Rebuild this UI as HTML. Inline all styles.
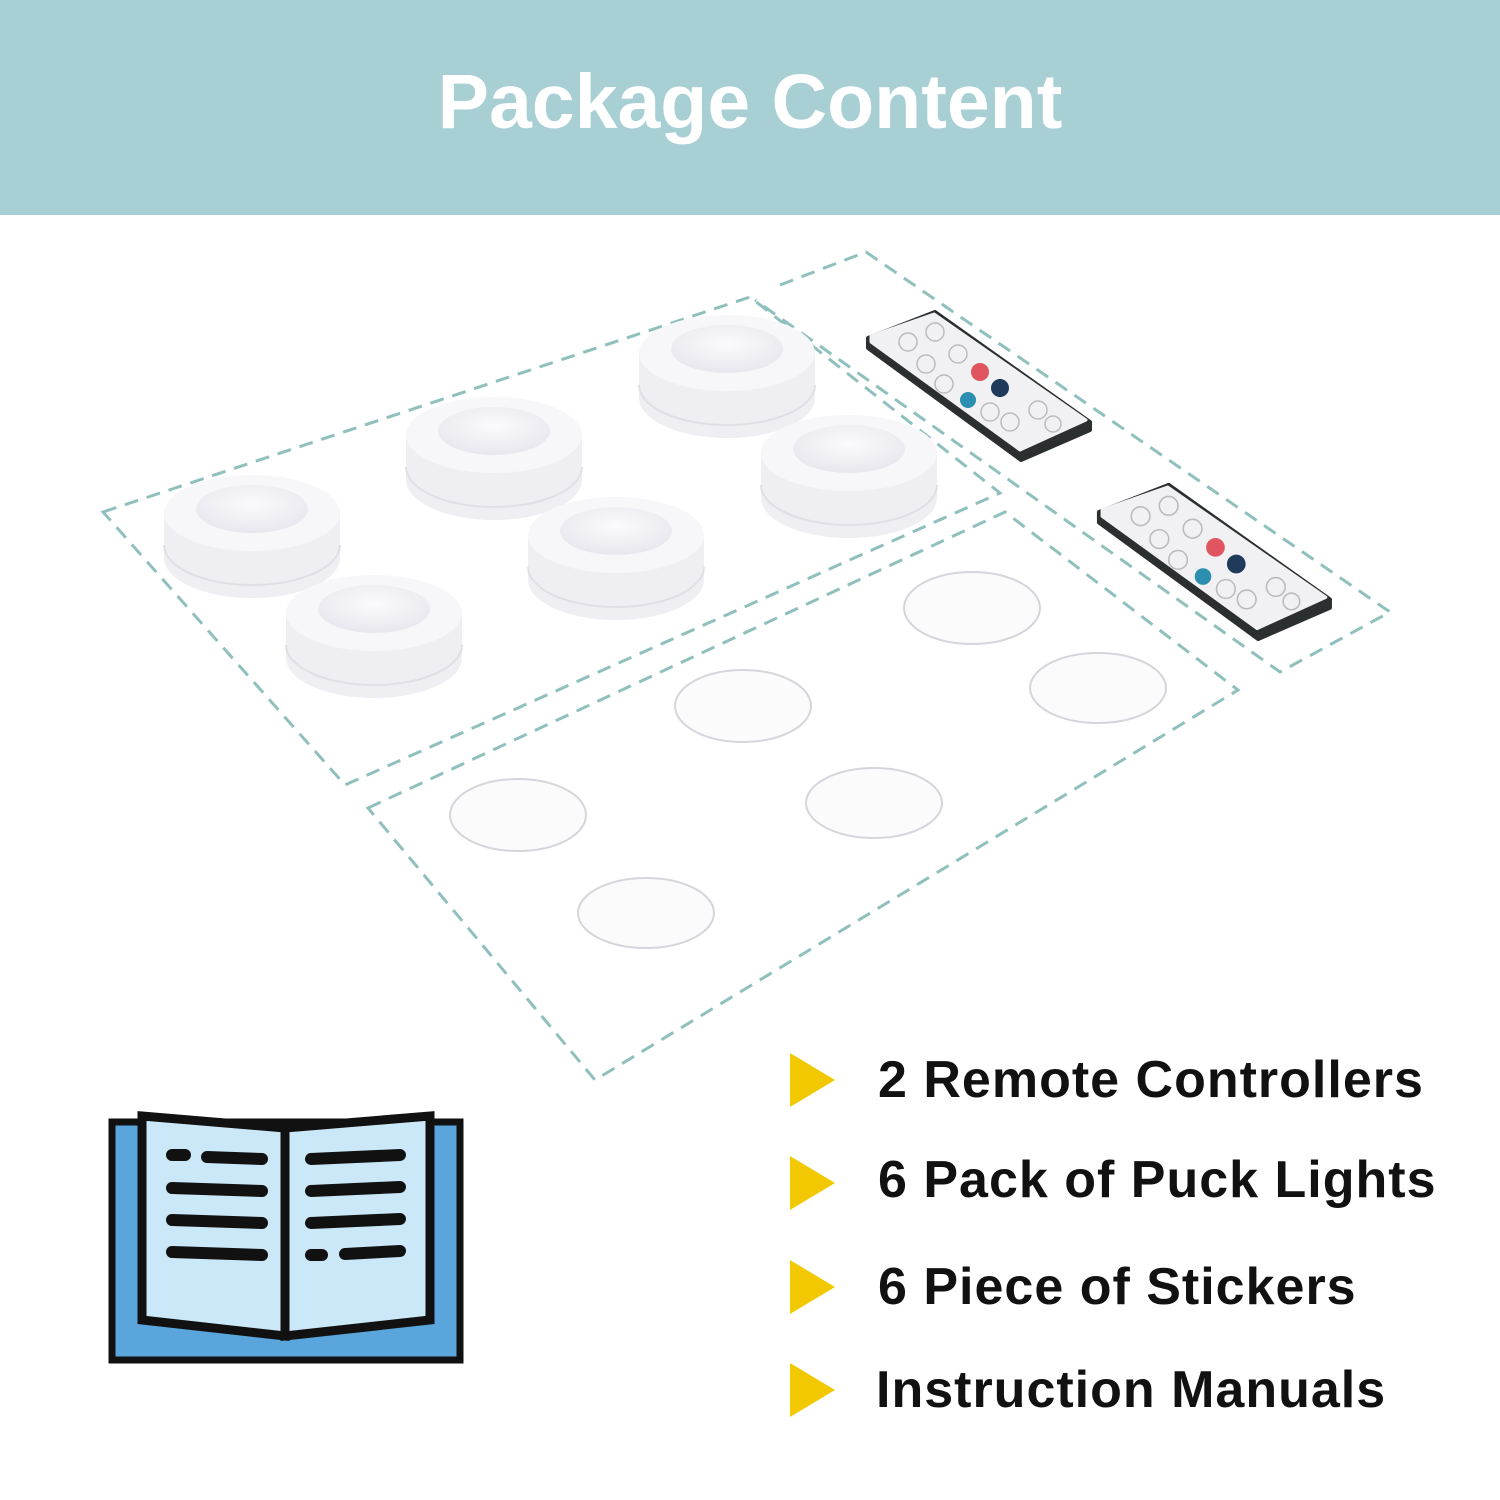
<!DOCTYPE html>
<html><head><style>
html,body{margin:0;padding:0;background:#fff;}
.wrap{position:relative;width:1500px;height:1500px;overflow:hidden;font-family:"Liberation Sans","DejaVu Sans",sans-serif;}
.hdr{position:absolute;left:0;top:0;width:1500px;height:215px;background:#a8cfd4;}
.hdr div{position:absolute;left:0;width:1500px;top:58px;text-align:center;color:#fff;font-weight:bold;font-size:77px;}
.item{position:absolute;left:878px;font-weight:bold;font-size:52px;color:#111;letter-spacing:1px;}
</style></head><body><div class="wrap">
<div class="hdr"><div>Package Content</div></div>
<svg width="1500" height="1500" style="position:absolute;left:0;top:0">
<defs>
<radialGradient id="lens" cx="50%" cy="40%" r="60%"><stop offset="0" stop-color="#fbfbfd"/><stop offset="1" stop-color="#e8e7ee"/></radialGradient>
<g id="puck">
<path d="M-88 0 L-88 45 A88 40 0 0 0 88 45 L88 0 Z" fill="#efeef3"/>
<path d="M-88 32 A88 40 0 0 0 88 32" fill="none" stroke="#e0dfe6" stroke-width="2"/>
<ellipse cx="0" cy="0" rx="88" ry="38" fill="#f7f7fa"/>
<ellipse cx="0" cy="-4" rx="56" ry="24" fill="url(#lens)"/>
</g>
<g id="remote">
<polygon points="0,26 67,0 222,110 222,118 153,148 0,36" fill="#2b2f30" stroke="#2b2f30" stroke-width="4" stroke-linejoin="round"/>
<polygon points="3,24 66,2 218,108 152,138 3,30" fill="#f1f1f3" stroke="#f1f1f3" stroke-width="3" stroke-linejoin="round"/>
<g fill="none" stroke="#bbb" stroke-width="1.5">
<circle cx="40" cy="30" r="9"/><circle cx="67" cy="20" r="9"/>
<circle cx="58" cy="52" r="9"/><circle cx="90" cy="42" r="9"/>
<circle cx="76" cy="72" r="9"/><circle cx="142" cy="110" r="9"/>
<circle cx="170" cy="98" r="9"/><circle cx="122" cy="100" r="9"/><circle cx="185" cy="112" r="8"/>
</g>
<circle cx="112" cy="60" r="9" fill="#e05560"/>
<circle cx="132" cy="76" r="9" fill="#1f3a5a"/>
<circle cx="100" cy="88" r="8" fill="#2d8fb0"/>
</g>
</defs>
<g fill="none" stroke="#8fc0bd" stroke-width="3" stroke-dasharray="14,9">
<polygon points="103,512 750,297 1000,493 345,785"/>
<polygon points="368,808 1005,512 1238,690 595,1080"/>
<polyline points="780,285 866,252 1390,612 1280,672 755,300"/>
</g>
<use href="#puck" x="727" y="353"/>
<use href="#puck" x="494" y="435"/>
<use href="#puck" x="849" y="453"/>
<use href="#puck" x="252" y="513"/>
<use href="#puck" x="616" y="535"/>
<use href="#puck" x="374" y="613"/>
<use href="#remote" x="868" y="312"/>
<g transform="translate(1099 485) scale(1.04)"><use href="#remote"/></g>
<g fill="#fbfbfc" stroke="#d6d5dc" stroke-width="2">
<ellipse cx="972" cy="608" rx="68" ry="36"/>
<ellipse cx="1098" cy="688" rx="68" ry="35"/>
<ellipse cx="743" cy="706" rx="68" ry="36"/>
<ellipse cx="874" cy="803" rx="68" ry="35"/>
<ellipse cx="518" cy="815" rx="68" ry="36"/>
<ellipse cx="646" cy="913" rx="68" ry="35"/>
</g>
<g fill="#f2c900">
<polygon points="790,1053 835,1080 790,1107"/>
<polygon points="790,1156 835,1183 790,1210"/>
<polygon points="790,1260 835,1287 790,1314"/>
<polygon points="790,1363 835,1390 790,1417"/>
</g>
<rect x="112" y="1122" width="348" height="238" fill="#5aa5dc" stroke="#111" stroke-width="7"/>
<path d="M142 1116 L285 1128 L285 1336 L142 1320 Z" fill="#cbe8f8" stroke="#111" stroke-width="9"/>
<path d="M285 1128 L430 1116 L430 1320 L285 1336 Z" fill="#cbe8f8" stroke="#111" stroke-width="9"/>
<g stroke="#111" stroke-width="12" stroke-linecap="round">
<line x1="172" y1="1155" x2="185" y2="1155"/><line x1="207" y1="1157" x2="262" y2="1159"/>
<line x1="172" y1="1188" x2="262" y2="1191"/>
<line x1="172" y1="1220" x2="262" y2="1223"/>
<line x1="172" y1="1252" x2="262" y2="1255"/>
<line x1="311" y1="1159" x2="400" y2="1155"/>
<line x1="311" y1="1191" x2="400" y2="1187"/>
<line x1="311" y1="1223" x2="400" y2="1219"/>
<line x1="311" y1="1255" x2="322" y2="1255"/><line x1="345" y1="1254" x2="400" y2="1251"/>
</g>
</svg>
<div class="item" style="top:1050px">2 Remote Controllers</div>
<div class="item" style="top:1150px">6 Pack of Puck Lights</div>
<div class="item" style="top:1257px">6 Piece of Stickers</div>
<div class="item" style="top:1360px;left:876px">Instruction Manuals</div>
</div></body></html>
